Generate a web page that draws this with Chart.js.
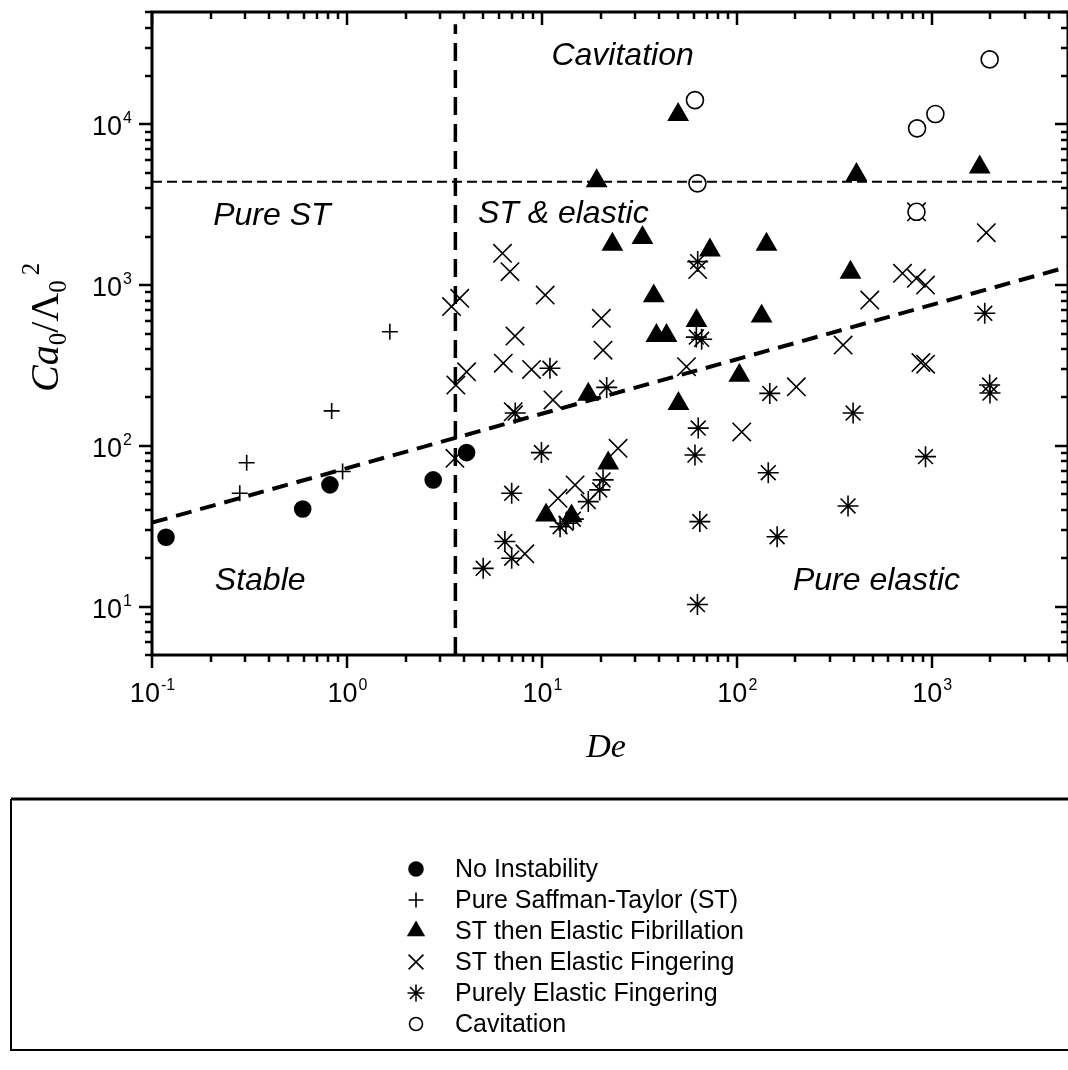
<!DOCTYPE html>
<html>
<head>
<meta charset="utf-8">
<script src="https://cdn.jsdelivr.net/npm/chart.js@4.4.0/dist/chart.umd.min.js"></script>
<style>
  html, body { margin: 0; padding: 0; background: #fff; }
  canvas { display: block; }
</style>
</head>
<body>
<canvas id="chart" width="1068" height="1070"></canvas>
<script>
// values: De (x) and Ca0/Lambda0^2 (y)
const noInstDe = [0.118, 0.593, 0.818, 2.77, 4.11];
const noInstCa = [27.0, 40.5, 57.2, 61.4, 90.8];

const pureStDe = [0.282, 0.306, 0.835, 0.95, 1.66];
const pureStCa = [50.7, 78.5, 165, 69.2, 513];

const fibrilDe = [50.0, 19.1, 23.0, 32.8, 72.8, 142, 37.5, 62.1, 134, 38.7, 43.6, 411, 1762, 383, 103, 50.2, 17.3, 21.9, 10.5, 14.2];
const fibrilCa = [11500, 4450, 1790, 1970, 1650, 1790, 855, 600, 640, 485, 485, 4870, 5420, 1200, 274, 183, 209, 78, 37, 36.6];

const fingerDe = [3.44, 3.79, 3.62, 4.11, 3.58, 7.28, 6.34, 8.85, 20.6, 7.13, 11.4, 55.2, 106, 24.6, 14.8, 12.1, 8.18,
                  6.28, 6.86, 10.4, 20.2, 63, 1905, 708, 834, 929, 481, 351, 202, 880, 930, 835];
const fingerCa = [735, 828, 239, 289, 83.7, 482, 327, 299, 394, 163, 193, 311, 122, 96.6, 57.1, 47.2, 21.3,
                  1578, 1211, 867, 622, 1250, 2118, 1184, 1102, 1000, 807, 424, 233, 330, 322, 2857];

const elasticDe = [11.0, 21.5, 7.3, 9.95, 7.0, 6.46, 7.0, 5.0, 12.4, 17.3, 19.8, 20.6, 13.3, 14.5, 62, 66, 63.4, 61.0,
                   64.6, 62.8, 147.6, 395, 929, 145, 372, 161, 1982, 1990, 1870, 63];
const elasticCa = [304, 231, 160, 90.8, 50.7, 25.4, 20.0, 17.3, 31.4, 45.0, 53.2, 61.4, 33, 35, 475, 460, 129, 87.7,
                   33.8, 10.3, 212, 160, 85.7, 68.1, 42.3, 27.2, 239, 213, 668, 1400];

const cavDe = [61.0, 62.8, 1982, 1044, 841, 835];
const cavCa = [14160, 4296, 25350, 11590, 9445, 2857];

// boundary lines
const stLimitCa = 4400;          // horizontal dashed line
const deLimit = 3.6;             // vertical dashed line
const fitDe = [0.1, 5000];       // inclined dashed line
const fitCa = [33.3, 1300];

const xTicks = [0.1, 1, 10, 100, 1000];
const xExps = ['-1', '0', '1', '2', '3'];
const yTicks = [10, 100, 1000, 10000];
const yExps = ['1', '2', '3', '4'];

const regionText = ['Cavitation', 'Pure ST', 'ST & elastic', 'Stable', 'Pure elastic'];
const regionDe = [11.2, 0.206, 4.70, 0.210, 194];
const regionCa = [23400, 2366, 2432, 12.7, 12.7];

const zip = (xs, ys) => xs.map((v, i) => ({x: v, y: ys[i]}));

const SANS = '"Liberation Sans", Arial, sans-serif';
const SERIF = '"Liberation Serif", "Times New Roman", serif';

function marker(label, de, ca, style, r, fill, order, legendR) {
  return {
    label: label,
    data: zip(de, ca),
    pointStyle: style,
    pointRadius: r,
    pointHoverRadius: r,
    pointBorderWidth: 1.6,
    pointBackgroundColor: fill,
    pointBorderColor: '#000',
    borderColor: '#000',
    backgroundColor: fill,
    order: order,
    legendR: legendR
  };
}

function dashLine(pts, width, dash) {
  return {
    label: '',
    data: pts,
    showLine: true,
    borderColor: '#000',
    borderWidth: width,
    borderDash: dash,
    pointRadius: 0,
    pointHoverRadius: 0,
    order: 0,
    isGuide: true
  };
}

function logTicks(min, max) {
  const out = [];
  for (let e = Math.floor(Math.log10(min)); e <= Math.ceil(Math.log10(max)); e++) {
    for (let m = 1; m <= 9; m++) {
      const v = m * Math.pow(10, e);
      if (v >= min * 0.999 && v <= max * 1.001) out.push({v: v, major: m === 1});
    }
  }
  return out;
}

function drawPow(ctx, exp, x, y, align) {
  ctx.font = '27px ' + SANS;
  const w1 = ctx.measureText('10').width;
  ctx.font = '16px ' + SANS;
  const w2 = ctx.measureText(exp).width;
  const left = align === 'center' ? x - (w1 + w2) / 2 : x - (w1 + w2);
  ctx.textAlign = 'left';
  ctx.textBaseline = 'alphabetic';
  ctx.font = '27px ' + SANS;
  ctx.fillText('10', left, y);
  ctx.font = '16px ' + SANS;
  ctx.fillText(exp, left + w1 + 1, y - 12);
}

// same shapes as the chart points, for the legend box
function drawMark(ctx, style, r, fill, x, y) {
  ctx.save();
  ctx.lineWidth = 1.6;
  ctx.strokeStyle = '#000';
  ctx.fillStyle = fill;
  ctx.beginPath();
  if (style === 'circle') {
    ctx.arc(x, y, r, 0, Math.PI * 2);
    ctx.fill(); ctx.stroke();
  } else if (style === 'triangle') {
    ctx.moveTo(x, y - r);
    ctx.lineTo(x + r * 0.866, y + r * 0.5);
    ctx.lineTo(x - r * 0.866, y + r * 0.5);
    ctx.closePath();
    ctx.fill(); ctx.stroke();
  } else {
    const d = r * Math.SQRT1_2;
    if (style === 'cross' || style === 'star') {
      ctx.moveTo(x, y - r); ctx.lineTo(x, y + r);
      ctx.moveTo(x - r, y); ctx.lineTo(x + r, y);
    }
    if (style === 'crossRot' || style === 'star') {
      ctx.moveTo(x - d, y - d); ctx.lineTo(x + d, y + d);
      ctx.moveTo(x + d, y - d); ctx.lineTo(x - d, y + d);
    }
    ctx.stroke();
  }
  ctx.restore();
}

const decor = {
  id: 'decor',
  afterDraw(chart) {
    const ctx = chart.ctx;
    const a = chart.chartArea;
    const xs = chart.scales.x, ys = chart.scales.y;
    ctx.save();
    ctx.strokeStyle = '#000';
    ctx.fillStyle = '#000';

    // frame (right side sits just past the canvas edge, as in the scan)
    ctx.lineWidth = 3;
    ctx.strokeRect(a.left, a.top, a.right - a.left, a.bottom - a.top);

    // tick marks on all four sides
    ctx.lineWidth = 2.5;
    ctx.beginPath();
    logTicks(xs.min, xs.max).forEach(t => {
      const px = Math.round(xs.getPixelForValue(t.v));
      const len = t.major ? 13 : 7;
      ctx.moveTo(px, a.bottom); ctx.lineTo(px, a.bottom + len);
      ctx.moveTo(px, a.top); ctx.lineTo(px, a.top + len);
    });
    logTicks(ys.min, ys.max).forEach(t => {
      const py = Math.round(ys.getPixelForValue(t.v));
      const len = t.major ? 13 : 7;
      ctx.moveTo(a.left, py); ctx.lineTo(a.left - len, py);
      ctx.moveTo(a.right, py); ctx.lineTo(a.right - len, py);
    });
    ctx.stroke();

    // tick labels
    xTicks.forEach((v, i) => drawPow(ctx, xExps[i], xs.getPixelForValue(v), a.bottom + 47, 'center'));
    yTicks.forEach((v, i) => drawPow(ctx, yExps[i], a.left - 21, ys.getPixelForValue(v) + 11, 'right'));

    // region names
    ctx.font = 'italic 32px ' + SANS;
    ctx.textAlign = 'left';
    regionText.forEach((s, i) => ctx.fillText(s, xs.getPixelForValue(regionDe[i]), ys.getPixelForValue(regionCa[i])));

    // x title
    ctx.font = 'italic 34px ' + SERIF;
    ctx.textAlign = 'center';
    ctx.fillText('De', (a.left + a.right) / 2 - 4, a.bottom + 102);

    // y title  Ca0 / Λ0^2, rotated
    ctx.save();
    ctx.translate(58, 392);
    ctx.rotate(-Math.PI / 2);
    ctx.textAlign = 'left';
    const big = 'italic 40px ' + SERIF, small = '25px ' + SERIF;
    const parts = [['Ca', big, 0], ['0', small, 8], ['/', '40px ' + SERIF, 0], ['Λ', '40px ' + SERIF, 0], ['0', small, 8]];
    let cx = 0;
    parts.forEach(p => {
      ctx.font = p[1];
      ctx.fillText(p[0], cx, p[2]);
      cx += ctx.measureText(p[0]).width;
    });
    ctx.font = small;
    ctx.fillText('2', cx + 5, -19);
    ctx.restore();

    // legend box
    ctx.lineWidth = 3;
    ctx.beginPath();
    ctx.moveTo(11, 799); ctx.lineTo(1068, 799);
    ctx.stroke();
    ctx.lineWidth = 2;
    ctx.beginPath();
    ctx.moveTo(11, 799); ctx.lineTo(11, 1050); ctx.lineTo(1068, 1050);
    ctx.stroke();

    ctx.font = '25px ' + SANS;
    ctx.textAlign = 'left';
    ctx.textBaseline = 'middle';
    let row = 0;
    chart.data.datasets.forEach(ds => {
      if (ds.isGuide) return;
      const yy = 869 + row * 31;
      drawMark(ctx, ds.pointStyle, ds.legendR, ds.pointBackgroundColor, 416, yy);
      ctx.fillStyle = '#000';
      ctx.fillText(ds.label, 455, yy + 1);
      row++;
    });
    ctx.restore();
  }
};

new Chart(document.getElementById('chart'), {
  type: 'scatter',
  data: {
    datasets: [
      marker('No Instability', noInstDe, noInstCa, 'circle', 8, '#000', 2, 7),
      marker('Pure Saffman-Taylor (ST)', pureStDe, pureStCa, 'cross', 8, '#000', 2, 7.5),
      marker('ST then Elastic Fibrillation', fibrilDe, fibrilCa, 'triangle', 11, '#000', 2, 9),
      marker('ST then Elastic Fingering', fingerDe, fingerCa, 'crossRot', 13, '#000', 2, 10.5),
      marker('Purely Elastic Fingering', elasticDe, elasticCa, 'star', 10.5, '#000', 2, 8.5),
      marker('Cavitation', cavDe, cavCa, 'circle', 8.5, '#fff', 1, 6.5),
      dashLine([{x: 0.1, y: stLimitCa}, {x: 5000, y: stLimitCa}], 2, [10, 5]),
      dashLine([{x: deLimit, y: 5}, {x: deLimit, y: 42000}], 3.5, [18, 9]),
      dashLine(zip(fitDe, fitCa), 4, [16, 9])
    ]
  },
  options: {
    responsive: false,
    animation: false,
    layout: { autoPadding: false, padding: { left: 152, top: 12, right: -2, bottom: 415 } },
    plugins: { legend: { display: false }, tooltip: { enabled: false } },
    scales: {
      x: { type: 'logarithmic', min: 0.1, max: 5000, display: false },
      y: { type: 'logarithmic', min: 5, max: 50000, display: false }
    }
  },
  plugins: [decor]
});
</script>
</body>
</html>
